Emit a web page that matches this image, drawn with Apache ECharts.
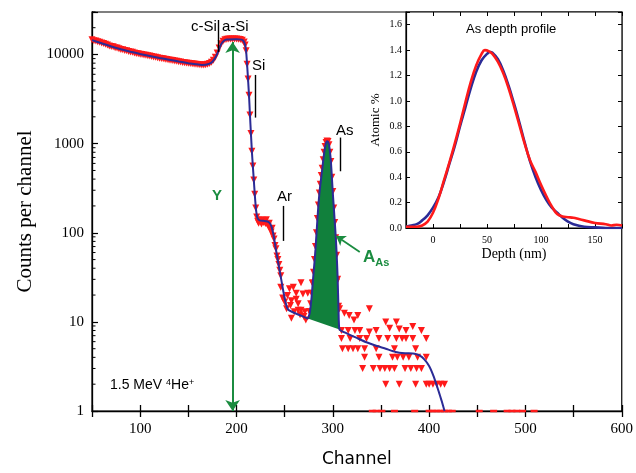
<!DOCTYPE html>
<html><head><meta charset="utf-8">
<script src="https://cdn.jsdelivr.net/npm/echarts@6/dist/echarts.min.js"></script>
<style>html,body{margin:0;padding:0;background:#fff}#c{width:636px;height:473px}</style>
</head><body><div id="c"></div>
<script>
// ---------- DATA ----------
// measured RBS spectrum (red triangles): [channel, counts]
const spectrumBulk = [[50,14600],[52,14300],[54,14200],[56,13900],[58,13700],[60,13500],[62,13300],[64,13000],[66,12800],[68,12500],[70,12300],[72,12200],[74,11900],[76,11800],[78,11600],[80,11400],[82,11300],[84,11100],[86,11000],[88,10800],[90,10700],[92,10600],[94,10400],[96,10300],[98,10200],[100,10100],[102,10000],[104,9900],[106,9800],[108,9700],[110,9600],[112,9500],[114,9400],[116,9300],[118,9200],[120,9100],[122,9000],[124,8950],[126,8850],[128,8800],[130,8700],[132,8600],[134,8550],[136,8450],[138,8400],[140,8300],[142,8250],[144,8150],[146,8100],[148,8050],[150,8000],[152,7950],[154,7900],[156,7850],[158,7800],[160,7750],[162,7700],[164,7650],[166,7650],[168,7700],[170,7800],[172,7950],[174,8200],[176,8600],[178,9300],[180,10400],[182,11800],[184,13200],[186,14100],[188,14600],[190,14800],[192,14900],[194,14900],[196,14900],[198,14900],[200,14900],[202,14800],[204,14700],[206,14500],[208,13800],[209,12800],[210,11000],[211,7800],[212,5300],[213,3500],[214,2100],[215,1300],[216,820],[217,560],[218,390],[219,270],[220,190]];
const spectrumTail = [[221,150],[222,135],[223,128],[224,140],[225,132],[226,125],[227,138],[228,130],[229,135],[230,127],[231,140],[232,124],[233,118],[234,128],[235,110],[236,102],[237,112],[238,92],[239,85],[240,72],[241,66],[242,55],[243,50],[244,44],[245,38],[246,33],[246,24.5],[248,18.5],[250,16.7],[252,14],[253,19.8],[255,23.5],[256,15.3],[257,11],[257,17.3],[259,24.5],[260,13],[262,21],[262,18],[264,16],[264,13.5],[266,12],[267,27.5],[267,13.5],[269,20.5],[270,11.5],[271,13],[272,10.5],[274,21],[276,13],[279,27.5],
[304,28],[307,14],[309,8],[309,6.5],[310,5],[312,12.5],[316,8],[316,5],[317,11.8],[318,6.5],[321,5],[322,10.5],[323,8],[326,11.8],[326,5],[328,8],[328,6.5],[331,3],[333,5],[333,4],[335,6.5],[338,14],[338,7.7],[342,3],[345,8],[345,5],[348,6.5],[348,4],[349,3],[354,3],[355,10],[355,2],[357,6.5],[359,3],[359,8.5],[362,4],[364,3],[364,5],[366,10],[366,6.5],[367,4],[369,8.3],[369,2],[372,6.5],[373,4],[375,3],[376,8],[376,6.5],[379,4],[381,3],[383,8.9],[383,6.5],[386,5],[386,2],[387,3],[388,4],[392,8],[392,3],[397,6.5],[397,4],[397,2],[400,2],[404,2],[408,2],[412,2],[416,2]];
const spectrumPeak = [[276,13],[277,16],[278,21],[279,27],[280,36],[281,50],[282,70],[283,100],[284,145],[285,205],[286,280],[287,350],[288,440],[289,530],[290,660],[291,800],[292,930],[293,1030],[294,1070],[295,1060],[296,970],[297,800],[298,630],[299,420],[300,290],[301,190],[302,130],[303,88],[304,56],[305,30],[306,15]];
const spectrumFloor = [[341,1],[345,1],[351,1],[364,1],[385,1],[400,1],[404,1],[408,1],[412,1],[416,1],[420,1],[424,1],[452,1],[467,1],[481,1],[486,1],[491,1],[497,1],[509,1]];

// simulated fit (blue line)
const fitMatrix = [[50,14500],[60,13400],[70,12300],[80,11450],[90,10750],[100,10150],[110,9650],[120,9150],[130,8750],[140,8350],[150,8000],[158,7780],[164,7650],[168,7680],[172,7900],[175,8300],[178,9200],[181,10800],[184,13000],[187,14300],[190,14750],[200,14850],[205,14700],[207,14300],[209,12800],[210,11000],[211,7800],[212,5300],[213,3500],[214,2100],[215,1300],[216,820],[217,560],[218,390],[219,270],[220,195],[221,160],[222,145],[224,138],[228,136],[232,134],[234,130],[236,120],[238,100],[240,75],[242,56],[244,42],[246,32],[248,24],[250,18.5],[252,15],[254,13.6],[258,12.9],[264,12.1],[270,11.4]];
const fitArsenic = [[274,10.9],[276,12.5],[277,15],[278,19],[279,26],[280,35],[281,47],[282,65],[283,95],[284,140],[285,200],[286,270],[287,340],[288,420],[289,510],[290,640],[291,780],[292,910],[293,1020],[294,1065],[295,1050],[296,980],[297,820],[298,640],[299,430],[300,280],[301,195],[302,135],[303,92],[304,58],[305,32],[306,13],[307,8.2]];
const fitTail = [[315,7.4],[325,6.6],[335,5.9],[345,5.4],[355,5.0],[365,4.6],[375,4.45],[385,4.4],[390,4.2],[395,3.8],[400,3.2],[405,2.4],[410,1.65],[413,1.3],[416,1]];

// inset: As depth profile [depth nm, atomic %]
const profileBlue = [[-25,0.01],[-20,0.02],[-15,0.03],[-10,0.06],[-5,0.1],[0,0.16],[5,0.24],[10,0.36],[15,0.5],[20,0.64],[25,0.8],[30,0.95],[35,1.1],[40,1.23],[45,1.32],[50,1.37],[53,1.385],[55,1.38],[60,1.33],[65,1.24],[70,1.12],[75,0.98],[80,0.83],[85,0.67],[90,0.52],[95,0.4],[100,0.3],[105,0.22],[110,0.16],[115,0.12],[120,0.08],[125,0.05],[130,0.03],[140,0.01],[150,0.005],[160,0],[175,0]];
const profileRed = [[-25,0.01],[-15,0.01],[-10,0.02],[-5,0.05],[0,0.12],[5,0.23],[10,0.37],[15,0.51],[20,0.66],[25,0.82],[30,0.99],[35,1.15],[40,1.28],[45,1.37],[48,1.4],[52,1.39],[55,1.37],[60,1.31],[65,1.22],[70,1.1],[75,0.96],[80,0.81],[85,0.66],[90,0.53],[95,0.44],[100,0.34],[105,0.25],[110,0.17],[115,0.11],[120,0.09],[125,0.085],[130,0.08],[135,0.07],[140,0.06],[150,0.04],[160,0.03],[165,0.02],[170,0.025],[175,0.02]];

// annotation anchors (data coords)
const yArrow = [[196,1],[196,13800]];
const asArrow = [[328,61],[303.5,92]];
const markerLines = [[[181.5,24400],[181.5,10700]],[[219.1,5900],[219.1,1960]],[[248.5,200],[248.5,81]],[[307.5,1170],[307.5,490]]];

// ---------- CHART ----------
const RED = '#ff1a1a', BLUE = '#2b2b96', GREEN = '#11803c', GREEN2 = '#1b8c40';
const serif = 'Liberation Serif';
const minorTicks = [];
for (let k = 0; k <= 4; k++) for (let m = 2; m <= 9; m++) { const v = m * Math.pow(10, k); if (v <= 30000) minorTicks.push([50, v]); }
const tri = {symbol: 'triangle', symbolRotate: 180, symbolSize: 7, itemStyle: {color: RED, opacity: 1}, z: 2};

const chart = echarts.init(document.getElementById('c'));
chart.setOption({
  animation: false,
  backgroundColor: '#fff',
  grid: [
    {left: 92, right: 14, top: 12, bottom: 60, show: true, borderColor: '#000', borderWidth: 1.2, backgroundColor: 'transparent'},
    {left: 406, right: 14, top: 12, bottom: 245, show: true, borderColor: '#000', borderWidth: 1.2, backgroundColor: '#fff'}
  ],
  xAxis: [
    {gridIndex: 0, type: 'value', min: 50, max: 600, interval: 50, position: 'bottom',
     axisLine: {onZero: false, lineStyle: {color: '#000', width: 1.3}}, axisTick: {inside: true, length: 6, lineStyle: {color: '#000', width: 1.3}},
     axisLabel: {margin: 11, fontFamily: serif, fontSize: 15, color: '#000', formatter: v => (v % 100 === 0 ? String(v) : '')},
     splitLine: {show: false},
     name: 'Channel', nameLocation: 'middle', nameGap: 40, nameTextStyle: {fontFamily: 'DejaVu Sans', fontSize: 17, color: '#000'}},
    {gridIndex: 0, type: 'value', min: 50, max: 600, interval: 50, position: 'bottom',
     axisLine: {show: false, onZero: false}, axisTick: {inside: false, length: 6, lineStyle: {color: '#000', width: 1.3}},
     axisLabel: {show: false}, splitLine: {show: false}},
    {gridIndex: 1, type: 'value', min: -25, max: 175, interval: 25, position: 'bottom',
     axisLine: {onZero: false, lineStyle: {color: '#000', width: 1.2}}, axisTick: {inside: true, length: 4, lineStyle: {color: '#000'}},
     axisLabel: {margin: 7, fontFamily: serif, fontSize: 10, color: '#000', formatter: v => (v % 50 === 0 ? String(v) : '')},
     splitLine: {show: false},
     name: 'Depth (nm)', nameLocation: 'middle', nameGap: 19, nameTextStyle: {fontFamily: serif, fontSize: 14, color: '#000', verticalAlign: 'top'}},
    {gridIndex: 1, type: 'value', min: -25, max: 175, interval: 25, position: 'top',
     axisLine: {show: false, onZero: false}, axisTick: {inside: true, length: 4, lineStyle: {color: '#000'}},
     axisLabel: {show: false}, splitLine: {show: false}}
  ],
  yAxis: [
    {gridIndex: 0, type: 'log', logBase: 10, min: 1, max: 30000, position: 'left',
     axisLine: {onZero: false, lineStyle: {color: '#000', width: 1.3}}, axisTick: {inside: true, length: 6, lineStyle: {color: '#000', width: 1.2}},
     axisLabel: {margin: 8, fontFamily: serif, fontSize: 15, color: '#000', formatter: v => { const l = Math.log10(v); return Math.abs(l - Math.round(l)) < 1e-6 ? String(Math.round(v)) : ''; }},
     splitLine: {show: false},
     name: 'Counts per channel', nameLocation: 'middle', nameGap: 56, nameTextStyle: {fontFamily: serif, fontSize: 21, color: '#000'}},
    {gridIndex: 1, type: 'value', min: 0, max: 1.7, interval: 0.2, position: 'left',
     axisLine: {onZero: false, lineStyle: {color: '#000', width: 1.2}}, axisTick: {inside: true, length: 4, lineStyle: {color: '#000'}},
     axisLabel: {margin: 4, fontFamily: serif, fontSize: 10, color: '#000', formatter: v => (Math.abs(v * 5 - Math.round(v * 5)) < 1e-6 ? v.toFixed(1) : '')},
     splitLine: {show: false},
     name: 'Atomic %', nameLocation: 'middle', nameGap: 24, nameTextStyle: {fontFamily: serif, fontSize: 13, color: '#000'}},
    {gridIndex: 1, type: 'value', min: 0, max: 1.7, interval: 0.2, position: 'right',
     axisLine: {show: false, onZero: false}, axisTick: {inside: true, length: 4, lineStyle: {color: '#000'}},
     axisLabel: {show: false}, splitLine: {show: false}}
  ],
  series: [
    {type: 'custom', xAxisIndex: 0, yAxisIndex: 0, silent: true, data: minorTicks, encode: {x: 0, y: 1}, z: 1,
     renderItem: (p, api) => { const c = api.coord([api.value(0), api.value(1)]); return {type: 'line', shape: {x1: c[0], y1: c[1], x2: c[0] + 3.5, y2: c[1]}, style: {stroke: '#000', lineWidth: 1}}; }},
    Object.assign({name: 'bulk', type: 'scatter', xAxisIndex: 0, yAxisIndex: 0, data: spectrumBulk}, tri),
    Object.assign({name: 'tail', type: 'scatter', xAxisIndex: 0, yAxisIndex: 0, data: spectrumTail}, tri),
    Object.assign({name: 'peak', type: 'scatter', xAxisIndex: 0, yAxisIndex: 0, data: spectrumPeak}, tri),
    {name: 'floor', type: 'scatter', xAxisIndex: 0, yAxisIndex: 0, data: spectrumFloor, symbol: 'rect', symbolSize: [7, 2.5], itemStyle: {color: RED, opacity: 1}, z: 2},
    {type: 'custom', xAxisIndex: 0, yAxisIndex: 0, silent: true, data: [fitArsenic[0]], encode: {x: 0, y: 1}, z: 3,
     renderItem: (p, api) => ({type: 'polygon', shape: {points: fitArsenic.map(d => api.coord(d))}, style: {fill: GREEN}})},
    {name: 'fit', type: 'line', xAxisIndex: 0, yAxisIndex: 0, data: fitMatrix.concat(fitArsenic, fitTail), showSymbol: false, smooth: 0.15,
     lineStyle: {color: BLUE, width: 2}, z: 4,
     markLine: {silent: true, animation: false, symbol: ['none', 'none'], label: {show: false}, emphasis: {disabled: true},
       data: markerLines.map(s => [{coord: s[0], lineStyle: {color: '#000', width: 1.4, type: 'solid'}}, {coord: s[1]}])
         .concat([
           [{coord: yArrow[0], symbol: 'arrow', symbolSize: 11, lineStyle: {color: GREEN2, width: 2, type: 'solid'}}, {coord: yArrow[1], symbol: 'arrow', symbolSize: 11}],
           [{coord: asArrow[0], symbol: 'none', lineStyle: {color: GREEN2, width: 1.8, type: 'solid'}}, {coord: asArrow[1], symbol: 'arrow', symbolSize: 9}]
         ])}},
    {name: 'profile fit', type: 'line', xAxisIndex: 2, yAxisIndex: 1, data: profileBlue, showSymbol: false, smooth: 0.4, lineStyle: {color: BLUE, width: 2.6}, z: 5},
    {name: 'profile', type: 'line', xAxisIndex: 2, yAxisIndex: 1, data: profileRed, showSymbol: false, smooth: 0.4, lineStyle: {color: RED, width: 2.6}, z: 6}
  ],
  graphic: [
    {type: 'text', z: 100, left: 191, top: 19, style: {text: 'c-Si', font: '15px "Liberation Sans"', fill: '#000'}},
    {type: 'text', z: 100, left: 222, top: 19, style: {text: 'a-Si', font: '15px "Liberation Sans"', fill: '#000'}},
    {type: 'text', z: 100, left: 252, top: 58, style: {text: 'Si', font: '15px "Liberation Sans"', fill: '#000'}},
    {type: 'text', z: 100, left: 277, top: 189, style: {text: 'Ar', font: '15px "Liberation Sans"', fill: '#000'}},
    {type: 'text', z: 100, left: 336, top: 123, style: {text: 'As', font: '15px "Liberation Sans"', fill: '#000'}},
    {type: 'text', z: 100, left: 212, top: 188, style: {text: 'Y', font: 'bold 15px "Liberation Sans"', fill: GREEN2}},
    {type: 'text', z: 100, left: 363, top: 249, style: {text: '{a|A}{s|As}', rich: {a: {font: 'bold 17px "Liberation Sans"', fill: GREEN2, verticalAlign: 'top'}, s: {font: 'bold 11px "Liberation Sans"', fill: GREEN2, verticalAlign: 'bottom', padding: [8, 0, 0, 0]}}}},
    {type: 'text', z: 100, left: 110, top: 378, style: {text: '{a|1.5 MeV }{s|4}{a|He}{s|+}', rich: {a: {font: '14px "Liberation Sans"', fill: '#000', verticalAlign: 'bottom'}, s: {font: '9px "Liberation Sans"', fill: '#000', verticalAlign: 'top'}}}},
    {type: 'text', z: 100, left: 466, top: 23, style: {text: 'As depth profile', font: '13px "Liberation Sans"', fill: '#000'}}
  ]
});
</script></body></html>
